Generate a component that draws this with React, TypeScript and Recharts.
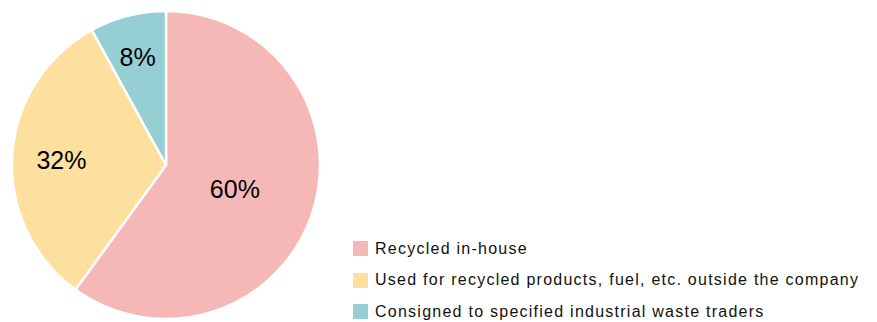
import { PieChart, Pie, Cell, Legend } from 'recharts';

const categories = [
  'Recycled in-house',
  'Used for recycled products, fuel, etc. outside the company',
  'Consigned to specified industrial waste traders',
];
const shares = [60, 32, 8];
const colors = ['#F6B8B6', '#FDE09E', '#95CFD3'];
// how far out each label sits, as a fraction of the radius
const labelReach = [0.47, 0.68, 0.74];

const data = categories.map((name, i) => ({ name, value: shares[i] }));

const RADIAN = Math.PI / 180;
const FONT = "'Liberation Sans', Arial, sans-serif";

function renderLabel({ cx, cy, midAngle, outerRadius, index, value }: any) {
  const r = outerRadius * labelReach[index];
  const x = cx + r * Math.cos(-midAngle * RADIAN);
  const y = cy + r * Math.sin(-midAngle * RADIAN) + 2;
  return (
    <text x={x} y={y} fill="#000" fontSize={25} textAnchor="middle" dominantBaseline="central" fontFamily={FONT}>
      {value}%
    </text>
  );
}

function LegendBox() {
  return (
    <div style={{ fontFamily: FONT, fontSize: 16, letterSpacing: 1.25, color: '#111' }}>
      {categories.map((c, i) => (
        <div key={c} style={{ display: 'flex', alignItems: 'center', height: 31.5 }}>
          <span style={{ width: 15, height: 15, background: colors[i], display: 'inline-block', marginRight: 7 }} />
          <span>{c}</span>
        </div>
      ))}
    </div>
  );
}

export default function App() {
  return (
    <div style={{ position: 'absolute', left: 0, top: 0, background: '#fff' }}>
      <PieChart width={877} height={322} margin={{ top: 0, right: 0, bottom: 0, left: 0 }}>
        <Pie
          data={data}
          dataKey="value"
          nameKey="name"
          cx={166}
          cy={165}
          outerRadius={154}
          startAngle={90}
          endAngle={-270}
          stroke="#fff"
          strokeWidth={2.5}
          label={renderLabel}
          labelLine={false}
          isAnimationActive={false}
        >
          {data.map((d, i) => (
            <Cell key={d.name} fill={colors[i]} />
          ))}
        </Pie>
        <Legend
          content={<LegendBox />}
          wrapperStyle={{ position: 'absolute', left: 353, top: 233, width: 524 }}
        />
      </PieChart>
    </div>
  );
}
